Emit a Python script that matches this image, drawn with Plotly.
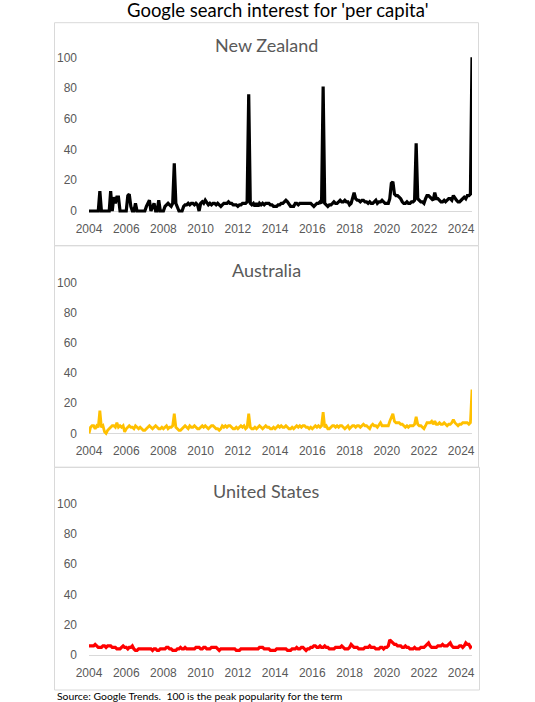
import plotly.graph_objects as go
import pandas as pd

# ---------------- data (monthly, Jan 2004 - Aug 2024) ----------------
nz_values = [
    0, 0, 0, 0, 0, 0, 0, 13, 0, 0, 0, 0,          # 2004
    0, 0, 13, 0, 9, 5, 9, 9, 0, 0, 0, 0,          # 2005
    0, 10, 11, 3, 0, 0, 5, 0, 0, 0, 0, 0,         # 2006
    0, 3, 5, 7, 0, 3, 5, 0, 0, 7, 0, 0,           # 2007
    0, 3, 4, 5, 4, 3, 5, 31, 5, 3, 0, 0,          # 2008
    0, 3, 4, 4, 5, 4, 5, 5, 4, 5, 4, 0,           # 2009
    5, 6, 5, 7, 5, 4, 5, 4, 5, 5, 4, 5,           # 2010
    4, 3, 4, 5, 5, 5, 6, 5, 5, 4, 4, 4,           # 2011
    3, 4, 4, 5, 5, 5, 6, 76, 5, 4, 5, 3,          # 2012
    5, 3, 5, 4, 5, 4, 5, 5, 5, 4, 4, 3,           # 2013
    3, 3, 4, 4, 5, 5, 6, 7, 6, 4, 3, 3,           # 2014
    3, 5, 5, 4, 5, 5, 5, 5, 5, 5, 5, 5,           # 2015
    4, 3, 4, 5, 5, 6, 5, 81, 5, 4, 3, 4,          # 2016
    4, 5, 6, 5, 5, 6, 7, 6, 6, 7, 6, 6,           # 2017
    4, 5, 9, 12, 8, 7, 7, 6, 7, 7, 6, 6,          # 2018
    5, 6, 5, 5, 6, 7, 5, 6, 6, 7, 6, 5,           # 2019
    5, 5, 8, 18, 19, 11, 10, 10, 9, 8, 6, 5,      # 2020
    5, 6, 5, 5, 6, 6, 7, 44, 8, 7, 6, 6,          # 2021
    5, 8, 10, 10, 9, 8, 7, 12, 8, 8, 7, 6,        # 2022
    6, 7, 6, 7, 8, 8, 7, 10, 8, 7, 6, 6,          # 2023
    7, 8, 9, 8, 10, 10, 11, 100,                  # 2024
]

au_values = [
    0, 4, 5, 5, 3, 5, 4, 15, 4, 5, 1, 0,          # 2004
    2, 3, 4, 5, 5, 4, 7, 4, 5, 4, 5, 1,           # 2005
    3, 4, 5, 4, 4, 3, 5, 4, 3, 4, 3, 2,           # 2006
    2, 3, 4, 5, 4, 3, 4, 5, 4, 3, 3, 4,           # 2007
    3, 4, 5, 3, 4, 4, 5, 13, 4, 3, 2, 2,          # 2008
    3, 4, 5, 4, 3, 5, 4, 4, 5, 4, 3, 3,           # 2009
    4, 5, 4, 5, 4, 3, 4, 5, 5, 4, 3, 3,           # 2010
    2, 3, 5, 4, 5, 4, 5, 5, 4, 3, 3, 4,           # 2011
    3, 4, 5, 4, 5, 3, 4, 13, 4, 3, 3, 4,          # 2012
    3, 4, 5, 4, 3, 4, 5, 4, 4, 3, 3, 4,           # 2013
    3, 4, 5, 4, 5, 4, 4, 5, 4, 3, 3, 4,           # 2014
    3, 4, 5, 4, 5, 4, 5, 5, 4, 4, 3, 4,           # 2015
    3, 4, 5, 4, 5, 4, 5, 14, 4, 5, 3, 3,          # 2016
    4, 5, 5, 4, 5, 4, 5, 5, 4, 3, 4, 5,           # 2017
    3, 4, 5, 5, 4, 5, 5, 4, 5, 6, 5, 5,           # 2018
    4, 3, 5, 6, 5, 5, 4, 6, 7, 5, 5, 5,           # 2019
    5, 5, 8, 11, 13, 8, 7, 7, 7, 6, 6, 5,         # 2020
    4, 5, 4, 5, 5, 5, 6, 11, 6, 5, 5, 4,          # 2021
    3, 5, 7, 7, 7, 8, 6, 8, 6, 6, 7, 6,           # 2022
    6, 7, 6, 5, 6, 6, 7, 9, 7, 6, 5, 6,           # 2023
    6, 7, 7, 7, 7, 6, 7, 29,                      # 2024
]

us_values = [
    6, 6, 6, 6, 7, 6, 5, 5, 5, 6, 6, 5,           # 2004
    6, 6, 6, 5, 5, 5, 4, 4, 4, 5, 6, 5,           # 2005
    5, 4, 5, 5, 6, 4, 3, 3, 4, 4, 4, 4,           # 2006
    4, 4, 4, 4, 4, 3, 4, 4, 3, 3, 4, 4,           # 2007
    4, 4, 5, 5, 4, 4, 3, 3, 3, 4, 4, 5,           # 2008
    4, 4, 5, 4, 4, 4, 4, 4, 4, 5, 5, 5,           # 2009
    4, 4, 5, 5, 4, 4, 4, 5, 5, 5, 5, 4,           # 2010
    3, 4, 4, 4, 4, 4, 4, 4, 4, 4, 4, 3,           # 2011
    3, 3, 4, 4, 4, 4, 4, 4, 4, 4, 4, 4,           # 2012
    4, 4, 5, 5, 5, 4, 4, 4, 4, 3, 3, 3,           # 2013
    3, 4, 4, 4, 4, 4, 4, 4, 3, 3, 3, 4,           # 2014
    4, 4, 5, 4, 4, 5, 5, 4, 3, 4, 4, 5,           # 2015
    5, 6, 6, 5, 5, 6, 5, 5, 6, 5, 5, 4,           # 2016
    4, 4, 4, 5, 5, 5, 5, 6, 5, 4, 4, 4,           # 2017
    5, 7, 6, 5, 5, 5, 4, 4, 4, 4, 5, 5,           # 2018
    5, 6, 5, 5, 5, 4, 4, 4, 5, 5, 4, 5,           # 2019
    5, 6, 10, 9, 8, 7, 7, 6, 6, 6, 5, 5,          # 2020
    6, 5, 5, 4, 4, 4, 5, 4, 4, 4, 5, 5,           # 2021
    5, 6, 7, 8, 6, 5, 5, 5, 5, 6, 6, 6,           # 2022
    7, 6, 6, 6, 7, 8, 6, 5, 5, 5, 5, 6,           # 2023
    6, 5, 6, 8, 7, 7, 5, 6,                       # 2024
]

months = pd.date_range("2004-01-01", periods=len(nz_values), freq="MS")

panel_titles = ["New Zealand", "Australia", "United States"]
y_tickvals = [0, 20, 40, 60, 80, 100]
x_tick_years = list(range(2004, 2025, 2))

chart_title = "Google search interest for 'per capita'"
source_text = "Source: Google Trends.  100 is the peak popularity for the term"

# ---------------- layout helpers (pixel based) ----------------
W, H = 535, 702
def px_x(p):
    return p / W
def px_y(p):
    return 1 - p / H

x_left, x_right = 89, 472
# (zero pixel, pixels per unit) for each panel
panels = [
    dict(zero=211.0, ppu=1.537, box=(54.5, 478.5, 22.7, 245.7), title_y=45.5, color="#000000", width=3.2),
    dict(zero=433.3, ppu=1.510, box=(54.5, 478.5, 245.7, 467.3), title_y=270.0, color="#FFC000", width=2.8),
    dict(zero=655.0, ppu=1.517, box=(54.5, 479.5, 467.3, 690.0), title_y=490.7, color="#FF0000", width=3.2),
]
y_lo, y_hi = -3, 105

series = [nz_values, au_values, us_values]

fig = go.Figure()
tick_font = dict(family="Liberation Sans, Arial, sans-serif", size=12, color="#595959")
title_family = "Lato, 'Noto Sans', sans-serif"

shapes = []
annotations = []
for i, (p, vals, name) in enumerate(zip(panels, series, panel_titles)):
    suffix = "" if i == 0 else str(i + 1)
    fig.add_trace(go.Scatter(
        x=months, y=vals, mode="lines", name=name,
        line=dict(color=p["color"], width=p["width"]),
        xaxis="x" + suffix, yaxis="y" + suffix, showlegend=False,
        hovertemplate="%{x|%b %Y}: %{y}<extra>" + name + "</extra>",
    ))
    bottom_px = p["zero"] - y_lo * p["ppu"]
    top_px = p["zero"] - y_hi * p["ppu"]
    fig.update_layout(**{
        "xaxis" + suffix: dict(
            domain=[px_x(x_left), px_x(x_right)],
            range=[months[0], months[-1]],
            anchor="y" + suffix,
            type="date",
            tickvals=[pd.Timestamp(f"{y}-01-01") for y in x_tick_years],
            ticktext=[str(y) for y in x_tick_years],
            showgrid=False, zeroline=False, showline=False,
            ticks="", tickfont=tick_font, ticklabelstandoff=4,
            automargin=False, fixedrange=True,
        ),
        "yaxis" + suffix: dict(
            domain=[px_y(bottom_px), px_y(top_px)],
            range=[y_lo, y_hi],
            anchor="x" + suffix,
            tickvals=y_tickvals,
            showgrid=False, zeroline=True, zerolinecolor="#D9D9D9", zerolinewidth=1,
            showline=False, ticks="", tickfont=tick_font, ticklabelstandoff=11,
            automargin=False, fixedrange=True,
        ),
    })
    x0, x1, y0, y1 = p["box"]
    shapes.append(dict(type="rect", xref="paper", yref="paper",
                       x0=px_x(x0), x1=px_x(x1), y0=px_y(y1), y1=px_y(y0),
                       line=dict(color="#D9D9D9", width=1), fillcolor="rgba(0,0,0,0)",
                       layer="below"))
    annotations.append(dict(text=name, xref="paper", yref="paper",
                            x=px_x(266), y=px_y(p["title_y"]),
                            xanchor="center", yanchor="middle", showarrow=False,
                            font=dict(family=title_family, size=18, color="#595959")))

annotations.append(dict(text=chart_title, xref="paper", yref="paper",
                        x=px_x(278), y=px_y(10.5), xanchor="center", yanchor="middle",
                        showarrow=False,
                        font=dict(family=title_family, size=18.5, color="#000000")))
annotations.append(dict(text=source_text, xref="paper", yref="paper",
                        x=px_x(55), y=px_y(695.5), xanchor="left", yanchor="middle",
                        showarrow=False,
                        font=dict(family=title_family, size=10.4, color="#000000")))

fig.update_layout(
    width=W, height=H,
    margin=dict(l=0, r=0, t=0, b=0, autoexpand=False),
    paper_bgcolor="white", plot_bgcolor="white",
    shapes=shapes, annotations=annotations,
    showlegend=False,
)

fig.write_html("out.html", config={"displayModeBar": False},
               post_script="document.body.style.margin='0';document.body.style.padding='0';")
